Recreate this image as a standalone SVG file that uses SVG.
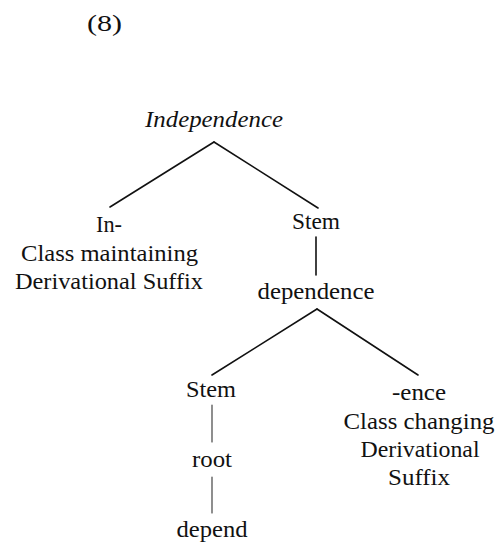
<svg xmlns="http://www.w3.org/2000/svg" width="502" height="545" viewBox="0 0 502 545">
  <style>
    text { font-family: "Liberation Serif", "Times New Roman", serif; font-size: 24px; fill: #111; text-anchor: middle; }
    .it { font-style: italic; }
    .edge { stroke: #111; stroke-width: 1.6; fill: none; stroke-linecap: round; }
    .thin { stroke: #444; stroke-width: 1.2; }
  </style>
  <rect width="502" height="545" fill="#fff"/>

  <!-- example number -->
  <g id="label-8">
    <text x="104.5" y="31" textLength="35" lengthAdjust="spacingAndGlyphs">(8)</text>
  </g>

  <!-- tree branches -->
  <g id="connectors">
    <line class="edge" x1="214" y1="142" x2="110" y2="207"/>
    <line class="edge" x1="214" y1="142" x2="318" y2="208"/>
    <line class="edge" x1="316" y1="237" x2="316" y2="275"/>
    <line class="edge" x1="317" y1="309" x2="212" y2="375"/>
    <line class="edge" x1="317" y1="309" x2="418" y2="375"/>
    <line class="edge thin" x1="212" y1="405" x2="212" y2="442"/>
    <line class="edge thin" x1="212" y1="477" x2="212" y2="513"/>
  </g>

  <g id="node-independence">
    <text class="it" x="214" y="127" textLength="138" lengthAdjust="spacingAndGlyphs">Independence</text>
  </g>

  <g id="node-prefix-in">
    <text x="109" y="232" textLength="26" lengthAdjust="spacingAndGlyphs">In-</text>
    <text x="109.5" y="261" textLength="177" lengthAdjust="spacingAndGlyphs">Class maintaining</text>
    <text x="109" y="289" textLength="188" lengthAdjust="spacingAndGlyphs">Derivational Suffix</text>
  </g>

  <g id="node-stem-upper">
    <text x="316" y="229" textLength="48" lengthAdjust="spacingAndGlyphs">Stem</text>
  </g>

  <g id="node-dependence">
    <text x="316" y="299" textLength="117" lengthAdjust="spacingAndGlyphs">dependence</text>
  </g>

  <g id="node-stem-lower">
    <text x="211" y="397" textLength="50" lengthAdjust="spacingAndGlyphs">Stem</text>
  </g>

  <g id="node-root">
    <text x="212" y="467" textLength="40" lengthAdjust="spacingAndGlyphs">root</text>
  </g>

  <g id="node-depend">
    <text x="212" y="537" textLength="71" lengthAdjust="spacingAndGlyphs">depend</text>
  </g>

  <g id="node-suffix-ence">
    <text x="419" y="400" textLength="54" lengthAdjust="spacingAndGlyphs">-ence</text>
    <text x="419" y="429" textLength="151" lengthAdjust="spacingAndGlyphs">Class changing</text>
    <text x="420" y="457" textLength="119" lengthAdjust="spacingAndGlyphs">Derivational</text>
    <text x="419" y="485" textLength="62" lengthAdjust="spacingAndGlyphs">Suffix</text>
  </g>
</svg>
